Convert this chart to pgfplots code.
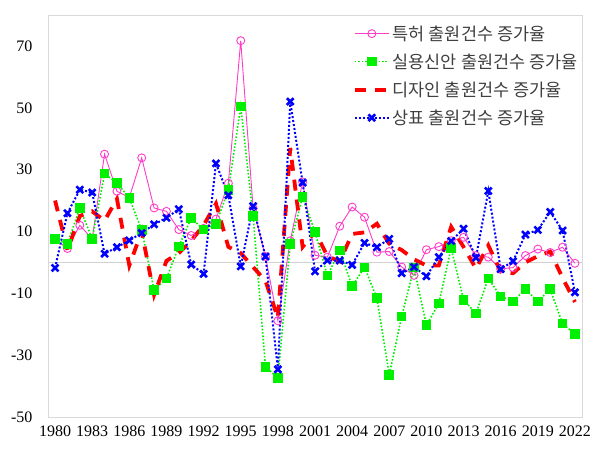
\documentclass[border=0pt]{standalone}
\usepackage{pgfplots}
\usepackage{pgfplotstable}
\pgfplotsset{compat=1.18}
\usepackage{fontspec}
\setmainfont{Liberation Serif}
\newfontfamily\kr{Noto Sans CJK KR}
\definecolor{cpink}{RGB}{255,60,200}
\definecolor{cgreen}{RGB}{0,240,0}
\definecolor{cred}{RGB}{255,0,0}
\definecolor{cblue}{RGB}{0,0,255}

\pgfplotstableread{
year patent utility design trademark
1980 7.5 7.6 20 -1.8
1981 4.5 6.0 4 15.9
1982 12 17.6 15 23.5
1983 7.6 7.6 16.5 22.6
1984 35 28.7 13.5 2.8
1985 23 25.7 20.5 4.9
1986 21 20.8 -1 7.1
1987 33.8 10.5 10 9.5
1988 17.6 -8.9 -10.5 12.3
1989 16.5 -5.2 0.5 14.4
1990 10.6 5.2 3 17.2
1991 8.7 14.3 7 -0.7
1992 11 10.6 12 -3.7
1993 14 12.4 19 32
1994 25.6 23.5 5 21.7
1995 71.7 50.4 3 -1.3
1996 17.5 15 -1.5 18.2
1997 1.9 -33.8 -6 1.9
1998 -18.9 -37.3 -18 -34.6
1999 7 6.0 37 52
2000 26 21.1 5 25.8
2001 2.3 9.8 10 -2.9
2002 1.7 -4.3 2 0.6
2003 11.7 3.8 0.3 0.6
2004 17.9 -7.7 9.2 -0.8
2005 14.6 -1.6 9.7 6.3
2006 3.3 -11.6 12.5 4.9
2007 3.5 -36.4 6 7.6
2008 -1.5 -17.5 4 -3.5
2009 -4.2 -1.7 1 -1.5
2010 4.1 -20.3 -1 -4.5
2011 5.1 -13.3 -1 1.7
2012 7 4.6 11.5 6.9
2013 8.1 -12.1 5 10.9
2014 2.2 -16.5 -2 1.5
2015 1.7 -5.2 5.5 23.1
2016 -2.1 -11 -3 -2.2
2017 -1.7 -12.6 -3.5 0.4
2018 2.2 -8.7 0 9
2019 4.3 -12.6 2 10.5
2020 3.2 -8.7 3.5 16.3
2021 4.9 -19.8 -5 10.3
2022 -0.3 -23.2 -12.8 -9.7
}\datatable

\begin{document}
\begin{tikzpicture}
\begin{axis}[
  scale only axis, width=534bp, height=402bp,
  xmin=1979.43, xmax=2022.57, ymin=-50, ymax=80,
  xtick={1980,1983,...,2022}, ytick={-50,-30,...,70},
  major tick length=0pt,
  axis line style={draw=black!15},
  tick label style={font=\fontsize{16bp}{18bp}\selectfont},
  /pgf/number format/assume math mode=true,
  /pgf/number format/1000 sep={},
  yticklabel style={xshift=-12bp},
  xticklabel style={yshift=-5bp},
  extra y ticks={0}, extra y tick labels={},
  extra y tick style={grid=major, major grid style={black!18, line width=1bp}},
  legend style={draw=none, fill=none, at={(0.565,0.984)}, anchor=north west,
    font=\kr\fontsize{17.5bp}{20bp}\selectfont, row sep=8bp, text=black!75},
  legend cell align=left,
  legend image code/.code={\draw[mark repeat=2,mark phase=2] plot coordinates {(0bp,0bp) (17bp,0bp) (34bp,0bp)};},
]
\addplot[cpink, line width=0.9bp, mark=o, mark size=4bp, mark options={solid, line width=0.9bp}] table[x=year,y=patent]{\datatable};
\addlegendentry{특허 출원건수 증가율}
\addplot[cgreen, line width=1.6bp, dash pattern=on 1.6bp off 1.8bp, mark=square*, mark size=4bp, mark options={solid}] table[x=year,y=utility]{\datatable};
\addlegendentry{실용신안 출원건수 증가율}
\addplot[cred, line width=3.8bp, dash pattern=on 11bp off 9bp, no marks] table[x=year,y=design]{\datatable};
\addlegendentry{디자인 출원건수 증가율}
\addplot[cblue, line width=2bp, dash pattern=on 2bp off 2bp, mark=x, mark size=4.8bp, mark options={solid, line width=2.6bp}] table[x=year,y=trademark]{\datatable};
\addlegendentry{상표 출원건수 증가율}
\end{axis}
\path (current axis.south west) ++(-48bp,-37bp) rectangle ++(606bp,454bp);
\end{tikzpicture}
\end{document}
